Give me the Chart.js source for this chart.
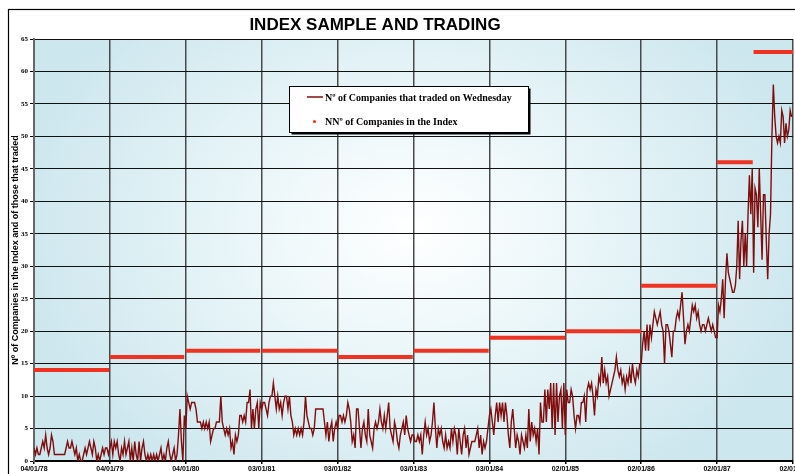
<!DOCTYPE html>
<html><head><meta charset="utf-8">
<script src="https://cdn.jsdelivr.net/npm/chart.js@4.4.0/dist/chart.umd.min.js"></script>
<style>
html,body{margin:0;padding:0;overflow:hidden;background:#fff;}
#wrap{position:relative;width:830px;height:474px;}
</style></head><body>
<div id="wrap"><canvas id="c" width="830" height="474"></canvas></div>
<script>
const chartTitle = 'INDEX SAMPLE AND TRADING';
const yAxisTitle = 'Nº of Companies in the Index and of those that traded';
const xTickLabels = ['04/01/78','04/01/79','04/01/80','03/01/81','03/01/82','03/01/83','03/01/84','02/01/85','02/01/86','02/01/87','02/01/88'];
const tradedLabel = 'Nº of Companies that traded on Wednesday';
const indexLabel = 'NNº of Companies in the Index';

// weekly counts of companies that traded, one list per year
const traded1978 = [2,1,2,1,1,2,3,2,4,2,1,2,4,3,1,1,1,1,1,1,1,1,2,3,2,2,3,2,1,2,0,1,0,0,1,2,1,2,3,2,1,3,2,0,1,0,1,2,1,2,2,1];
const traded1979 = [2,3,1,3,2,3,1,0,2,1,3,1,2,3,0,2,0,3,1,0,3,0,2,3,1,0,1,0,1,0,1,0,1,0,1,2,0,1,0,2,3,1,0,1,2,0,1,4,8,3,0,7];
const traded1980 = [5,10,9,8,9,9,9,8,6,6,6,5,6,5,6,5,6,3,4,5,5,6,6,6,10,6,5,4,5,4,5,2,3,1,4,3,4,7,7,6,7,6,9,9,11,5,8,5,8,9,5,9];
const traded1981 = [8,9,9,8,7,9,10,10,12,10,8,10,8,9,7,9,10,10,8,10,7,6,4,5,4,5,4,5,4,6,10,7,6,5,5,4,5,8,8,8,8,8,8,6,4,6,3,5,6,3,5,6];
const traded1982 = [5,7,7,6,7,6,7,9,8,6,3,4,2,8,8,5,2,5,6,4,3,8,4,3,2,5,6,5,6,8,6,5,7,5,7,9,5,4,3,6,5,3,2,4,5,6,4,7,5,4,3,4];
const traded1983 = [4,3,3,4,3,4,1,4,6,4,5,3,4,6,9,5,2,5,4,5,3,2,4,2,3,2,5,3,5,4,1,5,3,1,4,5,2,4,1,2,3,3,3,4,5,2,4,1,3,2,3,5];
const traded1984 = [7,8,6,4,7,9,6,9,7,9,6,9,7,4,2,6,8,5,2,4,3,1,4,3,2,4,2,8,3,6,4,5,3,5,1,9,6,6,11,6,11,8,12,5,12,4,12,6,10,11,5,12];
const traded1985 = [4,11,9,9,11,10,7,5,7,7,6,9,9,10,6,11,12,11,12,10,7,11,10,13,12,16,12,14,12,13,10,11,12,13,14,16,14,13,14,12,13,11,13,12,14,12,15,13,12,14,13,15];
const traded1986 = [15,18,20,17,21,17,21,19,21,23,22,21,22,23,21,20,15,21,21,20,18,16,20,20,22,23,22,24,26,22,18,20,21,20,22,24,23,24,22,23,21,20,21,21,20,21,22,21,20,21,20,19];
const traded1987 = [19,24,23,25,28,22,28,32,29,28,27,26,26,27,30,37,28,34,37,30,35,30,38,44,38,45,29,42,41,36,45,38,31,41,41,34,28,35,38,50,58,53,50,49,50,49,54,53,49,52,50,51,54,53];
const tradedYears = [traded1978,traded1979,traded1980,traded1981,traded1982,traded1983,traded1984,traded1985,traded1986,traded1987];

// index sample size, by period (in years since 04/01/78)
const indexStart = [0, 1, 2, 3, 4, 5, 6, 7, 8, 9, 9.48];
const indexEnd   = [0.99, 1.98, 2.98, 4, 4.99, 5.99, 7, 8, 9, 9.47, 10];
const indexValue = [14, 16, 17, 17, 16, 17, 19, 20, 27, 46, 63];

const yMin = 0, yMax = 65, yStep = 5;

const tradedData = [];
tradedYears.forEach((arr, y) => arr.forEach((v, i) => tradedData.push({x: y + i / arr.length, y: v})));
const indexData = [];
indexValue.forEach((v, i) => {
  indexData.push({x: indexStart[i], y: v});
  indexData.push({x: indexEnd[i], y: v});
  indexData.push({x: indexEnd[i], y: null});
});

const bgPlugin = {
  id: 'bg',
  beforeDraw(chart) {
    const {ctx, chartArea: a} = chart;
    ctx.save();
    ctx.fillStyle = '#fff';
    ctx.fillRect(0, 0, chart.width, chart.height);
    const cx = (a.left + a.right) / 2, cy = (a.top + a.bottom) / 2 - 20;
    ctx.translate(cx, cy);
    ctx.scale(1, 0.75);
    const r = (a.right - a.left) / 2 * 1.05;
    const g = ctx.createRadialGradient(0, 0, 0, 0, 0, r);
    g.addColorStop(0, '#ffffff');
    g.addColorStop(0.35, '#eef8fa');
    g.addColorStop(1, '#cde7ee');
    ctx.fillStyle = g;
    ctx.fillRect(a.left - cx, (a.top - cy) / 0.75, a.right - a.left, (a.bottom - a.top) / 0.75);
    ctx.restore();
    // outer frame
    ctx.save();
    ctx.strokeStyle = '#000';
    ctx.lineWidth = 1.2;
    ctx.strokeRect(8.5, 9.5, 1000, 1000);
    ctx.restore();
  },
  afterDraw(chart) {
    const {ctx} = chart;
    ctx.save();
    ctx.fillStyle = '#000';
    ctx.font = 'bold 17px "Liberation Sans", Arial, sans-serif';
    ctx.textAlign = 'center';
    ctx.textBaseline = 'alphabetic';
    ctx.fillText(chartTitle, 375, 30);
    // legend box
    const bx = 289.5, by = 86.5, bw = 239, bh = 46;
    ctx.fillStyle = '#000';
    ctx.fillRect(bx + 2, by + 2, bw, bh);
    ctx.fillStyle = '#fff';
    ctx.fillRect(bx, by, bw, bh);
    ctx.strokeStyle = '#000';
    ctx.lineWidth = 1;
    ctx.strokeRect(bx, by, bw, bh);
    const ds = chart.data.datasets;
    ctx.strokeStyle = ds[0].borderColor;
    ctx.lineWidth = 1.5;
    ctx.beginPath(); ctx.moveTo(307, 97); ctx.lineTo(323, 97); ctx.stroke();
    ctx.fillStyle = '#ee3322';
    ctx.beginPath(); ctx.arc(314.5, 121.5, 1.6, 0, Math.PI * 2); ctx.fill();
    ctx.fillStyle = '#000';
    ctx.font = 'bold 10px "Liberation Serif", "Times New Roman", serif';
    ctx.textAlign = 'left';
    ctx.textBaseline = 'middle';
    ctx.fillText(ds[0].label, 325, 98);
    ctx.fillText(ds[1].label, 325, 122);
    ctx.restore();
  }
};

new Chart(document.getElementById('c'), {
  type: 'line',
  data: {
    datasets: [
      {label: tradedLabel, data: tradedData, borderColor: '#7f0d0d', borderWidth: 1.4, pointRadius: 0, tension: 0, order: 1},
      {label: indexLabel, data: indexData, borderColor: '#ee3322', borderWidth: 4, pointRadius: 0, spanGaps: false, order: 2}
    ]
  },
  options: {
    responsive: false,
    animation: false,
    events: [],
    layout: {padding: {top: 39, right: 37, left: 0, bottom: 0}},
    plugins: {legend: {display: false}, title: {display: false}, tooltip: {enabled: false}},
    scales: {
      x: {
        type: 'linear', min: 0, max: xTickLabels.length - 1,
        ticks: {stepSize: 1, autoSkip: false, maxRotation: 0, padding: 1, color: '#000',
          font: {family: '"Liberation Sans", Arial, sans-serif', size: 7, weight: 'bold'},
          callback: (v) => xTickLabels[Math.round(v)]},
        grid: {color: '#4a4a4a', lineWidth: 1.5, tickLength: 3, tickColor: '#000'},
        border: {color: '#000', width: 1.5},
        afterFit: (s) => { s.height = 13; }
      },
      y: {
        min: yMin, max: yMax,
        ticks: {stepSize: yStep, padding: 2, color: '#000',
          font: {family: '"Liberation Serif", "Times New Roman", serif', size: 7, weight: 'bold'}},
        grid: {color: '#111', lineWidth: 1, tickLength: 4, tickColor: '#000'},
        border: {color: '#666', width: 2},
        title: {display: true, text: yAxisTitle, color: '#000', padding: {top: 10, bottom: 0},
          font: {family: '"Liberation Sans", Arial, sans-serif', size: 9, weight: 'bold'}},
        afterFit: (s) => { s.width = 34; }
      }
    }
  },
  plugins: [bgPlugin]
});
</script>
</body></html>
